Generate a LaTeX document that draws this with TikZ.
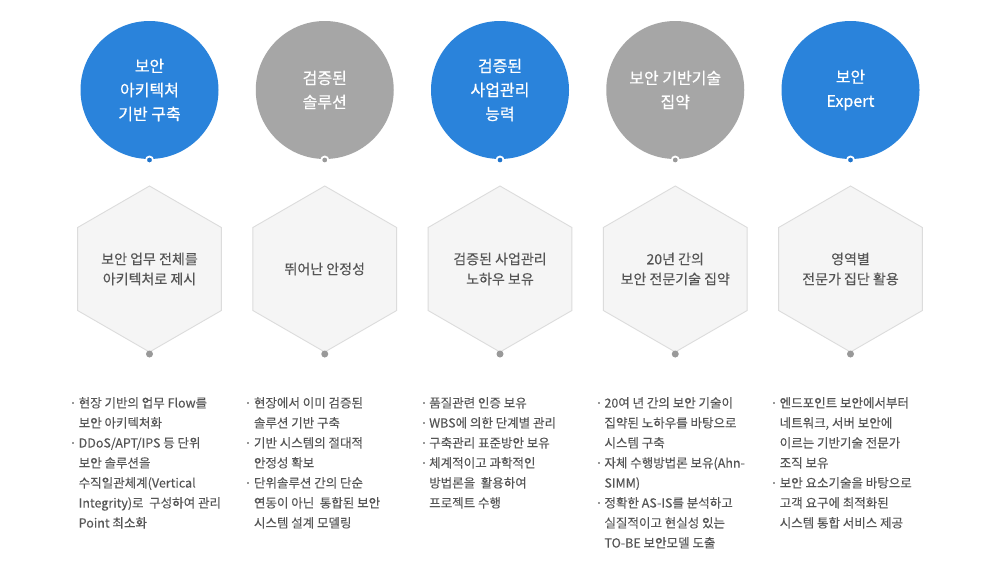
\documentclass[tikz,border=0pt]{standalone}
\usepackage{fontspec}
\usetikzlibrary{shapes.geometric,backgrounds}
\newfontfamily\kr{Noto Sans CJK KR}
\newfontfamily\krm[FakeBold=0.6]{Noto Sans CJK KR}
\newfontfamily\krl[FakeBold=0.2]{Noto Sans CJK KR}
\definecolor{cblue}{HTML}{2A83DB}
\definecolor{cgray}{HTML}{A6A6A6}
\definecolor{hexfill}{HTML}{F5F5F5}
\definecolor{hexline}{HTML}{DCDCDC}
\definecolor{connc}{HTML}{CCCCCC}
\definecolor{txt}{HTML}{555555}
\definecolor{bulc}{HTML}{999999}
\definecolor{dotblue}{HTML}{1F74CC}
\definecolor{dotgray}{HTML}{999999}
\newcommand\bulmark{\llap{\textcolor{bulc}{\rule[4pt]{2pt}{2pt}}\hspace{4.5pt}}}
\tikzset{
  circ/.style={circle, minimum size=138pt, inner sep=0pt, text=white, align=center,
    font=\krm\fontsize{16}{24}\selectfont},
  bluec/.style={circ, fill=cblue},
  grayc/.style={circ, fill=cgray},
  hexbox/.style={regular polygon, regular polygon sides=6, shape border rotate=30,
    minimum size=166pt, inner sep=0pt, draw=hexline, fill=hexfill, line width=0.9pt},
  hextext/.style={inner sep=0pt, text=txt, align=center, font=\krl\fontsize{14}{20}\selectfont},
  topdot/.style={circle, inner sep=0pt, minimum size=7pt, draw=white, line width=1.8pt},
  botdot/.style={circle, inner sep=0pt, minimum size=7pt, fill=dotgray},
  conn/.style={draw=connc, line width=0.9pt},
  listbox/.style={anchor=north west, inner sep=0pt, align=left, text=txt,
    font=\krl\fontsize{12.5}{20}\selectfont},
}
\begin{document}
\begin{tikzpicture}[x=1pt,y=-1pt]
\useasboundingbox[fill=white] (0,0) rectangle (990,571);

% column 1
\node[bluec] (c1) at (149.5,90) {보안\\아키텍쳐\\기반 구축};
\node[hexbox] (h1) at (149.5,269) {};
\node[hextext] (x1) at (h1.center) {보안 업무 전체를\\아키텍처로 제시};
\node[topdot, fill=dotblue] (t1) at (149.5,160) {};
\node[botdot] (b1) at (149.5,354) {};
\coordinate (e1) at (149.5,383);
\node[listbox] (l1) at (78.5,397) {\bulmark 현장 기반의 업무 Flow를\\보안 아키텍처화\\\bulmark DDoS/APT/IPS 등 단위\\보안 솔루션을\\수직일관체계(Vertical\\Integrity)로~ 구성하여 관리\\Point 최소화};

% column 2
\node[grayc] (c2) at (324.75,90) {검증된\\솔루션};
\node[hexbox] (h2) at (324.75,269) {};
\node[hextext] (x2) at (h2.center) {뛰어난 안정성};
\node[topdot, fill=dotgray] (t2) at (324.75,160) {};
\node[botdot] (b2) at (324.75,354) {};
\coordinate (e2) at (324.75,383);
\node[listbox] (l2) at (253.75,397) {\bulmark 현장에서 이미 검증된\\솔루션 기반 구축\\\bulmark 기반 시스템의 절대적\\안정성 확보\\\bulmark 단위솔루션 간의 단순\\연동이 아닌~ 통합된 보안\\시스템 설계 모델링};

% column 3
\node[bluec] (c3) at (500,90) {검증된\\사업관리\\능력};
\node[hexbox] (h3) at (500,269) {};
\node[hextext] (x3) at (h3.center) {검증된 사업관리\\노하우 보유};
\node[topdot, fill=dotblue] (t3) at (500,160) {};
\node[botdot] (b3) at (500,354) {};
\coordinate (e3) at (500,383);
\node[listbox] (l3) at (429,397) {\bulmark 품질관련 인증 보유\\\bulmark WBS에 의한 단계별 관리\\\bulmark 구축관리 표준방안 보유\\\bulmark 체계적이고 과학적인\\방법론을~ 활용하여\\프로젝트 수행};

% column 4
\node[grayc] (c4) at (675.25,90) {보안 기반기술\\집약};
\node[hexbox] (h4) at (675.25,269) {};
\node[hextext] (x4) at (h4.center) {20년 간의\\보안 전문기술 집약};
\node[topdot, fill=dotgray] (t4) at (675.25,160) {};
\node[botdot] (b4) at (675.25,354) {};
\coordinate (e4) at (675.25,383);
\node[listbox] (l4) at (604.25,397) {\bulmark 20여 년 간의 보안 기술이\\집약된 노하우를 바탕으로\\시스템 구축\\\bulmark 자체 수행방법론 보유(Ahn-\\SIMM)\\\bulmark 정확한 AS-IS를 분석하고\\실질적이고 현실성 있는\\TO-BE 보안모델 도출};

% column 5
\node[bluec] (c5) at (850.5,90) {보안\\Expert};
\node[hexbox] (h5) at (850.5,269) {};
\node[hextext] (x5) at (h5.center) {영역별\\전문가 집단 활용};
\node[topdot, fill=dotblue] (t5) at (850.5,160) {};
\node[botdot] (b5) at (850.5,354) {};
\coordinate (e5) at (850.5,383);
\node[listbox] (l5) at (779.5,397) {\bulmark 엔드포인트 보안에서부터\\네트워크, 서버 보안에\\이르는 기반기술 전문가\\조직 보유\\\bulmark 보안 요소기술을 바탕으로\\고객 요구에 최적화된\\시스템 통합 서비스 제공};

\begin{pgfonlayer}{background}
\foreach \i in {1,...,5}{
  \draw[conn] (t\i.center) -- (h\i.north);
  \draw[conn] (b\i.center) -- (e\i);
}
\end{pgfonlayer}
\end{tikzpicture}
\end{document}
